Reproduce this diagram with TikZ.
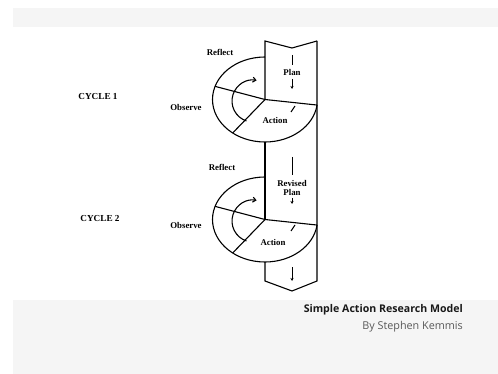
\documentclass[tikz,border=0pt]{standalone}
\usepackage{fontspec}
\setmainfont{Liberation Serif}
\newfontfamily\titlefont{Open Sans}
\usetikzlibrary{arrows.meta,calc}
\definecolor{band}{gray}{0.962}
\begin{document}
\begin{tikzpicture}[x=1pt,y=1pt,
  edge/.style={line width=1.1pt,black},
  lbl/.style={font=\bfseries\fontsize{8.8}{9}\selectfont,inner sep=0pt},
  cyc/.style={font=\bfseries\fontsize{9.2}{10}\selectfont,inner sep=0pt},
  tick/.style={line width=1pt},
  darrow/.style={line width=1pt,-{Stealth[length=3pt,width=3pt]}},
  carrow/.style={line width=1.1pt,-{Straight Barb[length=3pt,width=5pt]}}]
\useasboundingbox (0,0) rectangle (498,-374);
\fill[band] (13,-8) rectangle (498,-27);
\fill[band] (13,-300) rectangle (498,-374);
% column
\coordinate (tl) at (265,-41);
\coordinate (tn) at (292,-48);
\coordinate (tr) at (317,-41);
\coordinate (bl) at (265,-281);
\coordinate (bp) at (292,-291);
\coordinate (br) at (317,-281);
\coordinate (c1) at (265,-99.5);
\coordinate (c2) at (265,-219.5);
\draw[edge] (tr) -- (tn) -- (tl) -- (c1);
\draw[edge] (tr) -- (br) -- (bp) -- (bl) -- (265,-262);
\draw[edge] (265,-142) -- (c2);
% cycles
\foreach \c in {c1,c2}{
  \draw[edge] ($(\c)+(0,42.5)$) arc[start angle=90,end angle=352.5,x radius=52.5,y radius=42.5];
  \draw[edge] (\c) -- ($(\c)+(162:52.5 and 42.5)$);
  \draw[edge] (\c) -- ($(\c)+(232:52.5 and 42.5)$);
  \draw[edge] (\c) -- ($(\c)+(352.5:52.5 and 42.5)$);
  \draw[carrow] ($(\c)+(-12,-1.5)+(252:21)$) arc[start angle=252,end angle=80,radius=21];
}
% labels
\node[lbl] (r1) at (220,-52) {Reflect};
\node[lbl] (o1) at (186,-107) {Observe};
\node[lbl] (a1) at (275,-120) {Action};
\node[lbl] (p1) at (292,-72) {Plan};
\node[lbl] (r2) at (222,-167) {Reflect};
\node[lbl] (o2) at (186,-225) {Observe};
\node[lbl] (a2) at (273,-242) {Action};
\node[lbl,align=center] (p2) at (292,-187.5) {Revised\\Plan};
\node[cyc] (k1) at (98,-97) {CYCLE 1};
\node[cyc] (k2) at (100,-218) {CYCLE 2};
% marks
\draw[tick] (292,-55) -- (292,-65);
\draw[darrow] (292,-79) -- (292,-89);
\draw[tick] (291,-112) -- (295,-106);
\draw[tick] (292,-157) -- (292,-175);
\draw[darrow] (292,-198) -- (292,-204);
\draw[tick] (291,-231) -- (295,-225);
\draw[darrow] (292,-267) -- (292,-281);
% title
\node[font=\titlefont\bfseries\fontsize{10.6}{12}\selectfont,anchor=east,inner sep=0pt,text=black!90] (t1) at (463,-310) {Simple Action Research Model};
\node[font=\titlefont\fontsize{10.8}{12}\selectfont,anchor=east,inner sep=0pt,text=black!65] (t2) at (463,-327) {By Stephen Kemmis};
\end{tikzpicture}
\end{document}
